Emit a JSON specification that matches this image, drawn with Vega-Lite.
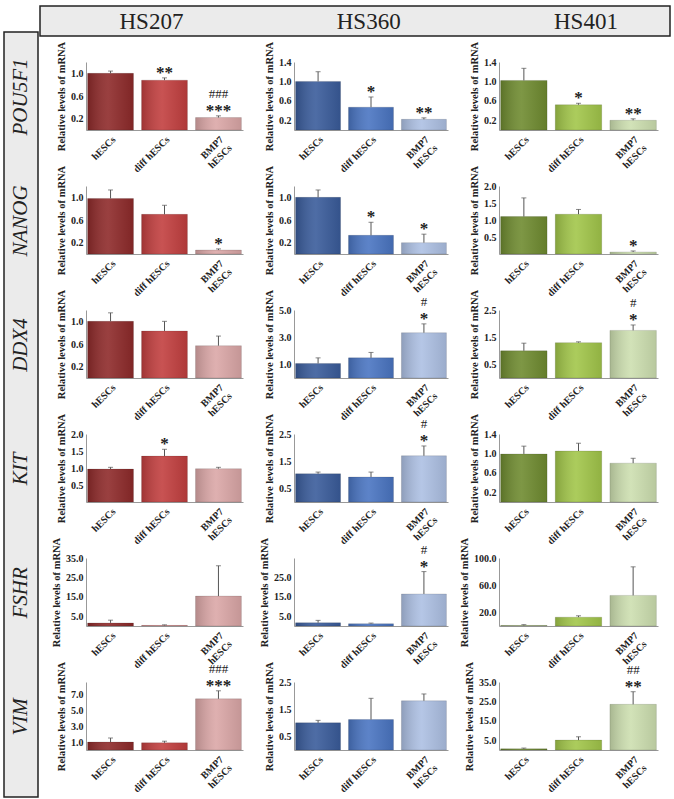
{
"$schema": "https://vega.github.io/schema/vega-lite/v6.json",
"padding": {"left": 3, "top": 5, "right": 0, "bottom": 0},
"background": "white",
"datasets": {
"d": [
{"gene":"POU5F1","line":"HS207","group":"hESCs","value":1.0,"hi":1.04,"star":"","hash":""},
{"gene":"POU5F1","line":"HS207","group":"diff hESCs","value":0.88,"hi":0.92,"star":"**","hash":""},
{"gene":"POU5F1","line":"HS207","group":"BMP7 hESCs","value":0.22,"hi":0.25,"star":"***","hash":"###"},
{"gene":"POU5F1","line":"HS360","group":"hESCs","value":1.0,"hi":1.2,"star":"","hash":""},
{"gene":"POU5F1","line":"HS360","group":"diff hESCs","value":0.47,"hi":0.68,"star":"*","hash":""},
{"gene":"POU5F1","line":"HS360","group":"BMP7 hESCs","value":0.22,"hi":0.25,"star":"**","hash":""},
{"gene":"POU5F1","line":"HS401","group":"hESCs","value":1.02,"hi":1.27,"star":"","hash":""},
{"gene":"POU5F1","line":"HS401","group":"diff hESCs","value":0.52,"hi":0.55,"star":"*","hash":""},
{"gene":"POU5F1","line":"HS401","group":"BMP7 hESCs","value":0.2,"hi":0.23,"star":"**","hash":""},
{"gene":"NANOG","line":"HS207","group":"hESCs","value":0.98,"hi":1.13,"star":"","hash":""},
{"gene":"NANOG","line":"HS207","group":"diff hESCs","value":0.7,"hi":0.86,"star":"","hash":""},
{"gene":"NANOG","line":"HS207","group":"BMP7 hESCs","value":0.07,"hi":0.09,"star":"*","hash":""},
{"gene":"NANOG","line":"HS360","group":"hESCs","value":1.0,"hi":1.13,"star":"","hash":""},
{"gene":"NANOG","line":"HS360","group":"diff hESCs","value":0.33,"hi":0.56,"star":"*","hash":""},
{"gene":"NANOG","line":"HS360","group":"BMP7 hESCs","value":0.2,"hi":0.35,"star":"*","hash":""},
{"gene":"NANOG","line":"HS401","group":"hESCs","value":1.1,"hi":1.65,"star":"","hash":""},
{"gene":"NANOG","line":"HS401","group":"diff hESCs","value":1.17,"hi":1.31,"star":"","hash":""},
{"gene":"NANOG","line":"HS401","group":"BMP7 hESCs","value":0.06,"hi":0.09,"star":"*","hash":""},
{"gene":"DDX4","line":"HS207","group":"hESCs","value":1.0,"hi":1.15,"star":"","hash":""},
{"gene":"DDX4","line":"HS207","group":"diff hESCs","value":0.83,"hi":1.0,"star":"","hash":""},
{"gene":"DDX4","line":"HS207","group":"BMP7 hESCs","value":0.57,"hi":0.74,"star":"","hash":""},
{"gene":"DDX4","line":"HS360","group":"hESCs","value":1.07,"hi":1.48,"star":"","hash":""},
{"gene":"DDX4","line":"HS360","group":"diff hESCs","value":1.48,"hi":1.88,"star":"","hash":""},
{"gene":"DDX4","line":"HS360","group":"BMP7 hESCs","value":3.33,"hi":3.98,"star":"*","hash":"#"},
{"gene":"DDX4","line":"HS401","group":"hESCs","value":1.0,"hi":1.28,"star":"","hash":""},
{"gene":"DDX4","line":"HS401","group":"diff hESCs","value":1.3,"hi":1.33,"star":"","hash":""},
{"gene":"DDX4","line":"HS401","group":"BMP7 hESCs","value":1.75,"hi":1.95,"star":"*","hash":"#"},
{"gene":"KIT","line":"HS207","group":"hESCs","value":0.97,"hi":1.02,"star":"","hash":""},
{"gene":"KIT","line":"HS207","group":"diff hESCs","value":1.35,"hi":1.55,"star":"*","hash":""},
{"gene":"KIT","line":"HS207","group":"BMP7 hESCs","value":0.98,"hi":1.02,"star":"","hash":""},
{"gene":"KIT","line":"HS360","group":"hESCs","value":1.04,"hi":1.1,"star":"","hash":""},
{"gene":"KIT","line":"HS360","group":"diff hESCs","value":0.92,"hi":1.1,"star":"","hash":""},
{"gene":"KIT","line":"HS360","group":"BMP7 hESCs","value":1.7,"hi":2.06,"star":"*","hash":"#"},
{"gene":"KIT","line":"HS401","group":"hESCs","value":0.99,"hi":1.15,"star":"","hash":""},
{"gene":"KIT","line":"HS401","group":"diff hESCs","value":1.05,"hi":1.21,"star":"","hash":""},
{"gene":"KIT","line":"HS401","group":"BMP7 hESCs","value":0.8,"hi":0.9,"star":"","hash":""},
{"gene":"FSHR","line":"HS207","group":"hESCs","value":1.6,"hi":3.0,"star":"","hash":""},
{"gene":"FSHR","line":"HS207","group":"diff hESCs","value":0.3,"hi":0.6,"star":"","hash":""},
{"gene":"FSHR","line":"HS207","group":"BMP7 hESCs","value":15.4,"hi":31.0,"star":"","hash":""},
{"gene":"FSHR","line":"HS360","group":"hESCs","value":1.7,"hi":2.9,"star":"","hash":""},
{"gene":"FSHR","line":"HS360","group":"diff hESCs","value":1.2,"hi":1.5,"star":"","hash":""},
{"gene":"FSHR","line":"HS360","group":"BMP7 hESCs","value":16.5,"hi":28.0,"star":"*","hash":"#"},
{"gene":"FSHR","line":"HS401","group":"hESCs","value":0.8,"hi":2.0,"star":"","hash":""},
{"gene":"FSHR","line":"HS401","group":"diff hESCs","value":13.0,"hi":15.0,"star":"","hash":""},
{"gene":"FSHR","line":"HS401","group":"BMP7 hESCs","value":45.0,"hi":87.0,"star":"","hash":""},
{"gene":"VIM","line":"HS207","group":"hESCs","value":1.0,"hi":1.5,"star":"","hash":""},
{"gene":"VIM","line":"HS207","group":"diff hESCs","value":0.9,"hi":1.1,"star":"","hash":""},
{"gene":"VIM","line":"HS207","group":"BMP7 hESCs","value":6.4,"hi":7.4,"star":"***","hash":"###"},
{"gene":"VIM","line":"HS360","group":"hESCs","value":1.0,"hi":1.09,"star":"","hash":""},
{"gene":"VIM","line":"HS360","group":"diff hESCs","value":1.12,"hi":1.9,"star":"","hash":""},
{"gene":"VIM","line":"HS360","group":"BMP7 hESCs","value":1.81,"hi":2.06,"star":"","hash":""},
{"gene":"VIM","line":"HS401","group":"hESCs","value":0.6,"hi":1.0,"star":"","hash":""},
{"gene":"VIM","line":"HS401","group":"diff hESCs","value":5.1,"hi":6.8,"star":"","hash":""},
{"gene":"VIM","line":"HS401","group":"BMP7 hESCs","value":23.5,"hi":30.0,"star":"**","hash":"##"}
]
},
"data": {"name": "d"},
"spacing": 0,
"hconcat": [
{"spacing": 0, "vconcat": [
  {"width": 34, "height": 25, "data": {"values": [{}]}, "mark": {"type": "text"}, "encoding": {"text": {"value": ""}}},
  {"width": 34, "height": 765, "view": {"fill": "#ebebeb", "stroke": "#222", "strokeWidth": 1.5},
   "data": {"values": [{"gene":"POU5F1"},{"gene":"NANOG"},{"gene":"DDX4"},{"gene":"KIT"},{"gene":"FSHR"},{"gene":"VIM"}]},
   "mark": {"type": "text", "angle": 270, "font": "Liberation Serif", "fontStyle": "italic", "fontSize": 21, "color": "#222", "align": "center", "baseline": "middle"},
   "encoding": {"y": {"field": "gene", "type": "nominal", "sort": null, "scale": {"type": "point", "padding": 0.585, "align": 0.448}, "axis": null}, "text": {"field": "gene"}}}
]},
{"spacing": 3, "vconcat": [
  {"width": 630, "height": 30, "view": {"fill": "#ebebeb", "stroke": "#222", "strokeWidth": 1.5},
   "data": {"values": [{"line":"HS207"},{"line":"HS360"},{"line":"HS401"}]},
   "mark": {"type": "text", "font": "Liberation Serif", "fontSize": 23, "color": "#222", "align": "center", "baseline": "middle", "dy": 1},
   "encoding": {"x": {"field": "line", "type": "ordinal", "scale": {"type": "point", "padding": 0.45, "align": 0.57}, "axis": null}, "text": {"field": "line"}}},
  {"spacing": 10, "hconcat": [
    {"width": 1, "height": 1, "data": {"values": [{}]}, "mark": {"type": "text"}, "encoding": {"text": {"value": ""}}},
    {"columns": 3, "bounds": "flush", "spacing": {"row": 56, "column": 51},
     "resolve": {"scale": {"color": "independent", "x": "independent", "y": "independent"}},
     "concat": [
{"width":157,"height":68,"transform":[{"filter":"datum.gene=='POU5F1' && datum.line=='HS207'"}],"encoding":{"x":{"field":"group","type":"nominal","sort":["hESCs","diff hESCs","BMP7 hESCs"],"scale":{"paddingInner":0.15,"paddingOuter":0.03},"title":null,"axis":{"labelExpr":"datum.value=='BMP7 hESCs' ? ['BMP7','hESCs'] : datum.value"}}},"layer":[
{"mark":"bar","encoding":{"y":{"field":"value","type":"quantitative","scale":{"domain":[0,1.2],"nice":false},"axis":{"values":[0.2,0.6,1.0],"tickCount":10,"labelOverlap":false},"title":"Relative levels of mRNA"},"color":{"field":"group","type":"nominal","scale":{"domain":["hESCs","diff hESCs","BMP7 hESCs"],"range":["#8e2a2a","#c23f3f","#dba7a7"]},"legend":null}}},
{"mark":{"type":"bar","fill":{"gradient":"linear","x1":0,"x2":1,"y1":0,"y2":0,"stops":[{"offset":0,"color":"rgba(0,0,0,0.18)"},{"offset":0.45,"color":"rgba(255,255,255,0.10)"},{"offset":1,"color":"rgba(0,0,0,0.10)"}]},"stroke":"rgba(0,0,0,0.2)","strokeWidth":0.6},"encoding":{"y":{"field":"value","type":"quantitative"}}},
{"mark":{"type":"rule","color":"#555"},"encoding":{"y":{"field":"value","type":"quantitative"},"y2":{"field":"hi"}}},
{"mark":{"type":"tick","color":"#555","size":5,"thickness":1},"encoding":{"y":{"field":"hi","type":"quantitative"}}},
{"mark":{"type":"text","baseline":"alphabetic","dy":0,"font":"Liberation Serif","fontSize":17,"fontWeight":"bold","color":"#222"},"encoding":{"y":{"field":"hi","type":"quantitative"},"text":{"field":"star"}}},
{"mark":{"type":"text","baseline":"alphabetic","dy":-18,"font":"Liberation Serif","fontSize":13,"color":"#222"},"encoding":{"y":{"field":"hi","type":"quantitative"},"text":{"field":"hash"}}}]},
{"width":154,"height":68,"transform":[{"filter":"datum.gene=='POU5F1' && datum.line=='HS360'"}],"encoding":{"x":{"field":"group","type":"nominal","sort":["hESCs","diff hESCs","BMP7 hESCs"],"scale":{"paddingInner":0.15,"paddingOuter":0.03},"title":null,"axis":{"labelExpr":"datum.value=='BMP7 hESCs' ? ['BMP7','hESCs'] : datum.value"}}},"layer":[
{"mark":"bar","encoding":{"y":{"field":"value","type":"quantitative","scale":{"domain":[0,1.4],"nice":false},"axis":{"values":[0.2,0.6,1.0,1.4],"tickCount":10,"labelOverlap":false},"title":"Relative levels of mRNA"},"color":{"field":"group","type":"nominal","scale":{"domain":["hESCs","diff hESCs","BMP7 hESCs"],"range":["#3a5c9b","#4a75c2","#adc0e3"]},"legend":null}}},
{"mark":{"type":"bar","fill":{"gradient":"linear","x1":0,"x2":1,"y1":0,"y2":0,"stops":[{"offset":0,"color":"rgba(0,0,0,0.18)"},{"offset":0.45,"color":"rgba(255,255,255,0.10)"},{"offset":1,"color":"rgba(0,0,0,0.10)"}]},"stroke":"rgba(0,0,0,0.2)","strokeWidth":0.6},"encoding":{"y":{"field":"value","type":"quantitative"}}},
{"mark":{"type":"rule","color":"#555"},"encoding":{"y":{"field":"value","type":"quantitative"},"y2":{"field":"hi"}}},
{"mark":{"type":"tick","color":"#555","size":5,"thickness":1},"encoding":{"y":{"field":"hi","type":"quantitative"}}},
{"mark":{"type":"text","baseline":"alphabetic","dy":0,"font":"Liberation Serif","fontSize":17,"fontWeight":"bold","color":"#222"},"encoding":{"y":{"field":"hi","type":"quantitative"},"text":{"field":"star"}}},
{"mark":{"type":"text","baseline":"alphabetic","dy":-18,"font":"Liberation Serif","fontSize":13,"color":"#222"},"encoding":{"y":{"field":"hi","type":"quantitative"},"text":{"field":"hash"}}}]},
{"width":159,"height":68,"transform":[{"filter":"datum.gene=='POU5F1' && datum.line=='HS401'"}],"encoding":{"x":{"field":"group","type":"nominal","sort":["hESCs","diff hESCs","BMP7 hESCs"],"scale":{"paddingInner":0.15,"paddingOuter":0.03},"title":null,"axis":{"labelExpr":"datum.value=='BMP7 hESCs' ? ['BMP7','hESCs'] : datum.value"}}},"layer":[
{"mark":"bar","encoding":{"y":{"field":"value","type":"quantitative","scale":{"domain":[0,1.4],"nice":false},"axis":{"values":[0.2,0.6,1.0,1.4],"tickCount":10,"labelOverlap":false},"title":"Relative levels of mRNA"},"color":{"field":"group","type":"nominal","scale":{"domain":["hESCs","diff hESCs","BMP7 hESCs"],"range":["#6f8b30","#a2c64a","#cddfb0"]},"legend":null}}},
{"mark":{"type":"bar","fill":{"gradient":"linear","x1":0,"x2":1,"y1":0,"y2":0,"stops":[{"offset":0,"color":"rgba(0,0,0,0.18)"},{"offset":0.45,"color":"rgba(255,255,255,0.10)"},{"offset":1,"color":"rgba(0,0,0,0.10)"}]},"stroke":"rgba(0,0,0,0.2)","strokeWidth":0.6},"encoding":{"y":{"field":"value","type":"quantitative"}}},
{"mark":{"type":"rule","color":"#555"},"encoding":{"y":{"field":"value","type":"quantitative"},"y2":{"field":"hi"}}},
{"mark":{"type":"tick","color":"#555","size":5,"thickness":1},"encoding":{"y":{"field":"hi","type":"quantitative"}}},
{"mark":{"type":"text","baseline":"alphabetic","dy":0,"font":"Liberation Serif","fontSize":17,"fontWeight":"bold","color":"#222"},"encoding":{"y":{"field":"hi","type":"quantitative"},"text":{"field":"star"}}},
{"mark":{"type":"text","baseline":"alphabetic","dy":-18,"font":"Liberation Serif","fontSize":13,"color":"#222"},"encoding":{"y":{"field":"hi","type":"quantitative"},"text":{"field":"hash"}}}]},

{"width":157,"height":68,"transform":[{"filter":"datum.gene=='NANOG' && datum.line=='HS207'"}],"encoding":{"x":{"field":"group","type":"nominal","sort":["hESCs","diff hESCs","BMP7 hESCs"],"scale":{"paddingInner":0.15,"paddingOuter":0.03},"title":null,"axis":{"labelExpr":"datum.value=='BMP7 hESCs' ? ['BMP7','hESCs'] : datum.value"}}},"layer":[
{"mark":"bar","encoding":{"y":{"field":"value","type":"quantitative","scale":{"domain":[0,1.2],"nice":false},"axis":{"values":[0.2,0.6,1.0],"tickCount":10,"labelOverlap":false},"title":"Relative levels of mRNA"},"color":{"field":"group","type":"nominal","scale":{"domain":["hESCs","diff hESCs","BMP7 hESCs"],"range":["#8e2a2a","#c23f3f","#dba7a7"]},"legend":null}}},
{"mark":{"type":"bar","fill":{"gradient":"linear","x1":0,"x2":1,"y1":0,"y2":0,"stops":[{"offset":0,"color":"rgba(0,0,0,0.18)"},{"offset":0.45,"color":"rgba(255,255,255,0.10)"},{"offset":1,"color":"rgba(0,0,0,0.10)"}]},"stroke":"rgba(0,0,0,0.2)","strokeWidth":0.6},"encoding":{"y":{"field":"value","type":"quantitative"}}},
{"mark":{"type":"rule","color":"#555"},"encoding":{"y":{"field":"value","type":"quantitative"},"y2":{"field":"hi"}}},
{"mark":{"type":"tick","color":"#555","size":5,"thickness":1},"encoding":{"y":{"field":"hi","type":"quantitative"}}},
{"mark":{"type":"text","baseline":"alphabetic","dy":0,"font":"Liberation Serif","fontSize":17,"fontWeight":"bold","color":"#222"},"encoding":{"y":{"field":"hi","type":"quantitative"},"text":{"field":"star"}}},
{"mark":{"type":"text","baseline":"alphabetic","dy":-18,"font":"Liberation Serif","fontSize":13,"color":"#222"},"encoding":{"y":{"field":"hi","type":"quantitative"},"text":{"field":"hash"}}}]},
{"width":154,"height":68,"transform":[{"filter":"datum.gene=='NANOG' && datum.line=='HS360'"}],"encoding":{"x":{"field":"group","type":"nominal","sort":["hESCs","diff hESCs","BMP7 hESCs"],"scale":{"paddingInner":0.15,"paddingOuter":0.03},"title":null,"axis":{"labelExpr":"datum.value=='BMP7 hESCs' ? ['BMP7','hESCs'] : datum.value"}}},"layer":[
{"mark":"bar","encoding":{"y":{"field":"value","type":"quantitative","scale":{"domain":[0,1.2],"nice":false},"axis":{"values":[0.2,0.6,1.0],"tickCount":10,"labelOverlap":false},"title":"Relative levels of mRNA"},"color":{"field":"group","type":"nominal","scale":{"domain":["hESCs","diff hESCs","BMP7 hESCs"],"range":["#3a5c9b","#4a75c2","#adc0e3"]},"legend":null}}},
{"mark":{"type":"bar","fill":{"gradient":"linear","x1":0,"x2":1,"y1":0,"y2":0,"stops":[{"offset":0,"color":"rgba(0,0,0,0.18)"},{"offset":0.45,"color":"rgba(255,255,255,0.10)"},{"offset":1,"color":"rgba(0,0,0,0.10)"}]},"stroke":"rgba(0,0,0,0.2)","strokeWidth":0.6},"encoding":{"y":{"field":"value","type":"quantitative"}}},
{"mark":{"type":"rule","color":"#555"},"encoding":{"y":{"field":"value","type":"quantitative"},"y2":{"field":"hi"}}},
{"mark":{"type":"tick","color":"#555","size":5,"thickness":1},"encoding":{"y":{"field":"hi","type":"quantitative"}}},
{"mark":{"type":"text","baseline":"alphabetic","dy":0,"font":"Liberation Serif","fontSize":17,"fontWeight":"bold","color":"#222"},"encoding":{"y":{"field":"hi","type":"quantitative"},"text":{"field":"star"}}},
{"mark":{"type":"text","baseline":"alphabetic","dy":-18,"font":"Liberation Serif","fontSize":13,"color":"#222"},"encoding":{"y":{"field":"hi","type":"quantitative"},"text":{"field":"hash"}}}]},
{"width":159,"height":68,"transform":[{"filter":"datum.gene=='NANOG' && datum.line=='HS401'"}],"encoding":{"x":{"field":"group","type":"nominal","sort":["hESCs","diff hESCs","BMP7 hESCs"],"scale":{"paddingInner":0.15,"paddingOuter":0.03},"title":null,"axis":{"labelExpr":"datum.value=='BMP7 hESCs' ? ['BMP7','hESCs'] : datum.value"}}},"layer":[
{"mark":"bar","encoding":{"y":{"field":"value","type":"quantitative","scale":{"domain":[0,2],"nice":false},"axis":{"values":[0.5,1.0,1.5,2.0],"tickCount":10,"labelOverlap":false},"title":"Relative levels of mRNA"},"color":{"field":"group","type":"nominal","scale":{"domain":["hESCs","diff hESCs","BMP7 hESCs"],"range":["#6f8b30","#a2c64a","#cddfb0"]},"legend":null}}},
{"mark":{"type":"bar","fill":{"gradient":"linear","x1":0,"x2":1,"y1":0,"y2":0,"stops":[{"offset":0,"color":"rgba(0,0,0,0.18)"},{"offset":0.45,"color":"rgba(255,255,255,0.10)"},{"offset":1,"color":"rgba(0,0,0,0.10)"}]},"stroke":"rgba(0,0,0,0.2)","strokeWidth":0.6},"encoding":{"y":{"field":"value","type":"quantitative"}}},
{"mark":{"type":"rule","color":"#555"},"encoding":{"y":{"field":"value","type":"quantitative"},"y2":{"field":"hi"}}},
{"mark":{"type":"tick","color":"#555","size":5,"thickness":1},"encoding":{"y":{"field":"hi","type":"quantitative"}}},
{"mark":{"type":"text","baseline":"alphabetic","dy":0,"font":"Liberation Serif","fontSize":17,"fontWeight":"bold","color":"#222"},"encoding":{"y":{"field":"hi","type":"quantitative"},"text":{"field":"star"}}},
{"mark":{"type":"text","baseline":"alphabetic","dy":-18,"font":"Liberation Serif","fontSize":13,"color":"#222"},"encoding":{"y":{"field":"hi","type":"quantitative"},"text":{"field":"hash"}}}]},

{"width":157,"height":68,"transform":[{"filter":"datum.gene=='DDX4' && datum.line=='HS207'"}],"encoding":{"x":{"field":"group","type":"nominal","sort":["hESCs","diff hESCs","BMP7 hESCs"],"scale":{"paddingInner":0.15,"paddingOuter":0.03},"title":null,"axis":{"labelExpr":"datum.value=='BMP7 hESCs' ? ['BMP7','hESCs'] : datum.value"}}},"layer":[
{"mark":"bar","encoding":{"y":{"field":"value","type":"quantitative","scale":{"domain":[0,1.2],"nice":false},"axis":{"values":[0.2,0.6,1.0],"tickCount":10,"labelOverlap":false},"title":"Relative levels of mRNA"},"color":{"field":"group","type":"nominal","scale":{"domain":["hESCs","diff hESCs","BMP7 hESCs"],"range":["#8e2a2a","#c23f3f","#dba7a7"]},"legend":null}}},
{"mark":{"type":"bar","fill":{"gradient":"linear","x1":0,"x2":1,"y1":0,"y2":0,"stops":[{"offset":0,"color":"rgba(0,0,0,0.18)"},{"offset":0.45,"color":"rgba(255,255,255,0.10)"},{"offset":1,"color":"rgba(0,0,0,0.10)"}]},"stroke":"rgba(0,0,0,0.2)","strokeWidth":0.6},"encoding":{"y":{"field":"value","type":"quantitative"}}},
{"mark":{"type":"rule","color":"#555"},"encoding":{"y":{"field":"value","type":"quantitative"},"y2":{"field":"hi"}}},
{"mark":{"type":"tick","color":"#555","size":5,"thickness":1},"encoding":{"y":{"field":"hi","type":"quantitative"}}},
{"mark":{"type":"text","baseline":"alphabetic","dy":0,"font":"Liberation Serif","fontSize":17,"fontWeight":"bold","color":"#222"},"encoding":{"y":{"field":"hi","type":"quantitative"},"text":{"field":"star"}}},
{"mark":{"type":"text","baseline":"alphabetic","dy":-18,"font":"Liberation Serif","fontSize":13,"color":"#222"},"encoding":{"y":{"field":"hi","type":"quantitative"},"text":{"field":"hash"}}}]},
{"width":154,"height":68,"transform":[{"filter":"datum.gene=='DDX4' && datum.line=='HS360'"}],"encoding":{"x":{"field":"group","type":"nominal","sort":["hESCs","diff hESCs","BMP7 hESCs"],"scale":{"paddingInner":0.15,"paddingOuter":0.03},"title":null,"axis":{"labelExpr":"datum.value=='BMP7 hESCs' ? ['BMP7','hESCs'] : datum.value"}}},"layer":[
{"mark":"bar","encoding":{"y":{"field":"value","type":"quantitative","scale":{"domain":[0,5],"nice":false},"axis":{"values":[1,3,5],"tickCount":10,"labelOverlap":false},"title":"Relative levels of mRNA"},"color":{"field":"group","type":"nominal","scale":{"domain":["hESCs","diff hESCs","BMP7 hESCs"],"range":["#3a5c9b","#4a75c2","#adc0e3"]},"legend":null}}},
{"mark":{"type":"bar","fill":{"gradient":"linear","x1":0,"x2":1,"y1":0,"y2":0,"stops":[{"offset":0,"color":"rgba(0,0,0,0.18)"},{"offset":0.45,"color":"rgba(255,255,255,0.10)"},{"offset":1,"color":"rgba(0,0,0,0.10)"}]},"stroke":"rgba(0,0,0,0.2)","strokeWidth":0.6},"encoding":{"y":{"field":"value","type":"quantitative"}}},
{"mark":{"type":"rule","color":"#555"},"encoding":{"y":{"field":"value","type":"quantitative"},"y2":{"field":"hi"}}},
{"mark":{"type":"tick","color":"#555","size":5,"thickness":1},"encoding":{"y":{"field":"hi","type":"quantitative"}}},
{"mark":{"type":"text","baseline":"alphabetic","dy":0,"font":"Liberation Serif","fontSize":17,"fontWeight":"bold","color":"#222"},"encoding":{"y":{"field":"hi","type":"quantitative"},"text":{"field":"star"}}},
{"mark":{"type":"text","baseline":"alphabetic","dy":-18,"font":"Liberation Serif","fontSize":13,"color":"#222"},"encoding":{"y":{"field":"hi","type":"quantitative"},"text":{"field":"hash"}}}]},
{"width":159,"height":68,"transform":[{"filter":"datum.gene=='DDX4' && datum.line=='HS401'"}],"encoding":{"x":{"field":"group","type":"nominal","sort":["hESCs","diff hESCs","BMP7 hESCs"],"scale":{"paddingInner":0.15,"paddingOuter":0.03},"title":null,"axis":{"labelExpr":"datum.value=='BMP7 hESCs' ? ['BMP7','hESCs'] : datum.value"}}},"layer":[
{"mark":"bar","encoding":{"y":{"field":"value","type":"quantitative","scale":{"domain":[0,2.5],"nice":false},"axis":{"values":[0.5,1.5,2.5],"tickCount":10,"labelOverlap":false},"title":"Relative levels of mRNA"},"color":{"field":"group","type":"nominal","scale":{"domain":["hESCs","diff hESCs","BMP7 hESCs"],"range":["#6f8b30","#a2c64a","#cddfb0"]},"legend":null}}},
{"mark":{"type":"bar","fill":{"gradient":"linear","x1":0,"x2":1,"y1":0,"y2":0,"stops":[{"offset":0,"color":"rgba(0,0,0,0.18)"},{"offset":0.45,"color":"rgba(255,255,255,0.10)"},{"offset":1,"color":"rgba(0,0,0,0.10)"}]},"stroke":"rgba(0,0,0,0.2)","strokeWidth":0.6},"encoding":{"y":{"field":"value","type":"quantitative"}}},
{"mark":{"type":"rule","color":"#555"},"encoding":{"y":{"field":"value","type":"quantitative"},"y2":{"field":"hi"}}},
{"mark":{"type":"tick","color":"#555","size":5,"thickness":1},"encoding":{"y":{"field":"hi","type":"quantitative"}}},
{"mark":{"type":"text","baseline":"alphabetic","dy":0,"font":"Liberation Serif","fontSize":17,"fontWeight":"bold","color":"#222"},"encoding":{"y":{"field":"hi","type":"quantitative"},"text":{"field":"star"}}},
{"mark":{"type":"text","baseline":"alphabetic","dy":-18,"font":"Liberation Serif","fontSize":13,"color":"#222"},"encoding":{"y":{"field":"hi","type":"quantitative"},"text":{"field":"hash"}}}]},

{"width":157,"height":68,"transform":[{"filter":"datum.gene=='KIT' && datum.line=='HS207'"}],"encoding":{"x":{"field":"group","type":"nominal","sort":["hESCs","diff hESCs","BMP7 hESCs"],"scale":{"paddingInner":0.15,"paddingOuter":0.03},"title":null,"axis":{"labelExpr":"datum.value=='BMP7 hESCs' ? ['BMP7','hESCs'] : datum.value"}}},"layer":[
{"mark":"bar","encoding":{"y":{"field":"value","type":"quantitative","scale":{"domain":[0,2],"nice":false},"axis":{"values":[0.5,1.0,1.5,2.0],"tickCount":10,"labelOverlap":false},"title":"Relative levels of mRNA"},"color":{"field":"group","type":"nominal","scale":{"domain":["hESCs","diff hESCs","BMP7 hESCs"],"range":["#8e2a2a","#c23f3f","#dba7a7"]},"legend":null}}},
{"mark":{"type":"bar","fill":{"gradient":"linear","x1":0,"x2":1,"y1":0,"y2":0,"stops":[{"offset":0,"color":"rgba(0,0,0,0.18)"},{"offset":0.45,"color":"rgba(255,255,255,0.10)"},{"offset":1,"color":"rgba(0,0,0,0.10)"}]},"stroke":"rgba(0,0,0,0.2)","strokeWidth":0.6},"encoding":{"y":{"field":"value","type":"quantitative"}}},
{"mark":{"type":"rule","color":"#555"},"encoding":{"y":{"field":"value","type":"quantitative"},"y2":{"field":"hi"}}},
{"mark":{"type":"tick","color":"#555","size":5,"thickness":1},"encoding":{"y":{"field":"hi","type":"quantitative"}}},
{"mark":{"type":"text","baseline":"alphabetic","dy":0,"font":"Liberation Serif","fontSize":17,"fontWeight":"bold","color":"#222"},"encoding":{"y":{"field":"hi","type":"quantitative"},"text":{"field":"star"}}},
{"mark":{"type":"text","baseline":"alphabetic","dy":-18,"font":"Liberation Serif","fontSize":13,"color":"#222"},"encoding":{"y":{"field":"hi","type":"quantitative"},"text":{"field":"hash"}}}]},
{"width":154,"height":68,"transform":[{"filter":"datum.gene=='KIT' && datum.line=='HS360'"}],"encoding":{"x":{"field":"group","type":"nominal","sort":["hESCs","diff hESCs","BMP7 hESCs"],"scale":{"paddingInner":0.15,"paddingOuter":0.03},"title":null,"axis":{"labelExpr":"datum.value=='BMP7 hESCs' ? ['BMP7','hESCs'] : datum.value"}}},"layer":[
{"mark":"bar","encoding":{"y":{"field":"value","type":"quantitative","scale":{"domain":[0,2.5],"nice":false},"axis":{"values":[0.5,1.5,2.5],"tickCount":10,"labelOverlap":false},"title":"Relative levels of mRNA"},"color":{"field":"group","type":"nominal","scale":{"domain":["hESCs","diff hESCs","BMP7 hESCs"],"range":["#3a5c9b","#4a75c2","#adc0e3"]},"legend":null}}},
{"mark":{"type":"bar","fill":{"gradient":"linear","x1":0,"x2":1,"y1":0,"y2":0,"stops":[{"offset":0,"color":"rgba(0,0,0,0.18)"},{"offset":0.45,"color":"rgba(255,255,255,0.10)"},{"offset":1,"color":"rgba(0,0,0,0.10)"}]},"stroke":"rgba(0,0,0,0.2)","strokeWidth":0.6},"encoding":{"y":{"field":"value","type":"quantitative"}}},
{"mark":{"type":"rule","color":"#555"},"encoding":{"y":{"field":"value","type":"quantitative"},"y2":{"field":"hi"}}},
{"mark":{"type":"tick","color":"#555","size":5,"thickness":1},"encoding":{"y":{"field":"hi","type":"quantitative"}}},
{"mark":{"type":"text","baseline":"alphabetic","dy":0,"font":"Liberation Serif","fontSize":17,"fontWeight":"bold","color":"#222"},"encoding":{"y":{"field":"hi","type":"quantitative"},"text":{"field":"star"}}},
{"mark":{"type":"text","baseline":"alphabetic","dy":-18,"font":"Liberation Serif","fontSize":13,"color":"#222"},"encoding":{"y":{"field":"hi","type":"quantitative"},"text":{"field":"hash"}}}]},
{"width":159,"height":68,"transform":[{"filter":"datum.gene=='KIT' && datum.line=='HS401'"}],"encoding":{"x":{"field":"group","type":"nominal","sort":["hESCs","diff hESCs","BMP7 hESCs"],"scale":{"paddingInner":0.15,"paddingOuter":0.03},"title":null,"axis":{"labelExpr":"datum.value=='BMP7 hESCs' ? ['BMP7','hESCs'] : datum.value"}}},"layer":[
{"mark":"bar","encoding":{"y":{"field":"value","type":"quantitative","scale":{"domain":[0,1.4],"nice":false},"axis":{"values":[0.2,0.6,1.0,1.4],"tickCount":10,"labelOverlap":false},"title":"Relative levels of mRNA"},"color":{"field":"group","type":"nominal","scale":{"domain":["hESCs","diff hESCs","BMP7 hESCs"],"range":["#6f8b30","#a2c64a","#cddfb0"]},"legend":null}}},
{"mark":{"type":"bar","fill":{"gradient":"linear","x1":0,"x2":1,"y1":0,"y2":0,"stops":[{"offset":0,"color":"rgba(0,0,0,0.18)"},{"offset":0.45,"color":"rgba(255,255,255,0.10)"},{"offset":1,"color":"rgba(0,0,0,0.10)"}]},"stroke":"rgba(0,0,0,0.2)","strokeWidth":0.6},"encoding":{"y":{"field":"value","type":"quantitative"}}},
{"mark":{"type":"rule","color":"#555"},"encoding":{"y":{"field":"value","type":"quantitative"},"y2":{"field":"hi"}}},
{"mark":{"type":"tick","color":"#555","size":5,"thickness":1},"encoding":{"y":{"field":"hi","type":"quantitative"}}},
{"mark":{"type":"text","baseline":"alphabetic","dy":0,"font":"Liberation Serif","fontSize":17,"fontWeight":"bold","color":"#222"},"encoding":{"y":{"field":"hi","type":"quantitative"},"text":{"field":"star"}}},
{"mark":{"type":"text","baseline":"alphabetic","dy":-18,"font":"Liberation Serif","fontSize":13,"color":"#222"},"encoding":{"y":{"field":"hi","type":"quantitative"},"text":{"field":"hash"}}}]},

{"width":157,"height":68,"transform":[{"filter":"datum.gene=='FSHR' && datum.line=='HS207'"}],"encoding":{"x":{"field":"group","type":"nominal","sort":["hESCs","diff hESCs","BMP7 hESCs"],"scale":{"paddingInner":0.15,"paddingOuter":0.03},"title":null,"axis":{"labelExpr":"datum.value=='BMP7 hESCs' ? ['BMP7','hESCs'] : datum.value"}}},"layer":[
{"mark":"bar","encoding":{"y":{"field":"value","type":"quantitative","scale":{"domain":[0,35],"nice":false},"axis":{"values":[5,15,25,35],"tickCount":10,"labelOverlap":false},"title":"Relative levels of mRNA"},"color":{"field":"group","type":"nominal","scale":{"domain":["hESCs","diff hESCs","BMP7 hESCs"],"range":["#8e2a2a","#c23f3f","#dba7a7"]},"legend":null}}},
{"mark":{"type":"bar","fill":{"gradient":"linear","x1":0,"x2":1,"y1":0,"y2":0,"stops":[{"offset":0,"color":"rgba(0,0,0,0.18)"},{"offset":0.45,"color":"rgba(255,255,255,0.10)"},{"offset":1,"color":"rgba(0,0,0,0.10)"}]},"stroke":"rgba(0,0,0,0.2)","strokeWidth":0.6},"encoding":{"y":{"field":"value","type":"quantitative"}}},
{"mark":{"type":"rule","color":"#555"},"encoding":{"y":{"field":"value","type":"quantitative"},"y2":{"field":"hi"}}},
{"mark":{"type":"tick","color":"#555","size":5,"thickness":1},"encoding":{"y":{"field":"hi","type":"quantitative"}}},
{"mark":{"type":"text","baseline":"alphabetic","dy":0,"font":"Liberation Serif","fontSize":17,"fontWeight":"bold","color":"#222"},"encoding":{"y":{"field":"hi","type":"quantitative"},"text":{"field":"star"}}},
{"mark":{"type":"text","baseline":"alphabetic","dy":-18,"font":"Liberation Serif","fontSize":13,"color":"#222"},"encoding":{"y":{"field":"hi","type":"quantitative"},"text":{"field":"hash"}}}]},
{"width":154,"height":68,"transform":[{"filter":"datum.gene=='FSHR' && datum.line=='HS360'"}],"encoding":{"x":{"field":"group","type":"nominal","sort":["hESCs","diff hESCs","BMP7 hESCs"],"scale":{"paddingInner":0.15,"paddingOuter":0.03},"title":null,"axis":{"labelExpr":"datum.value=='BMP7 hESCs' ? ['BMP7','hESCs'] : datum.value"}}},"layer":[
{"mark":"bar","encoding":{"y":{"field":"value","type":"quantitative","scale":{"domain":[0,35],"nice":false},"axis":{"values":[5,15,25],"tickCount":10,"labelOverlap":false},"title":"Relative levels of mRNA"},"color":{"field":"group","type":"nominal","scale":{"domain":["hESCs","diff hESCs","BMP7 hESCs"],"range":["#3a5c9b","#4a75c2","#adc0e3"]},"legend":null}}},
{"mark":{"type":"bar","fill":{"gradient":"linear","x1":0,"x2":1,"y1":0,"y2":0,"stops":[{"offset":0,"color":"rgba(0,0,0,0.18)"},{"offset":0.45,"color":"rgba(255,255,255,0.10)"},{"offset":1,"color":"rgba(0,0,0,0.10)"}]},"stroke":"rgba(0,0,0,0.2)","strokeWidth":0.6},"encoding":{"y":{"field":"value","type":"quantitative"}}},
{"mark":{"type":"rule","color":"#555"},"encoding":{"y":{"field":"value","type":"quantitative"},"y2":{"field":"hi"}}},
{"mark":{"type":"tick","color":"#555","size":5,"thickness":1},"encoding":{"y":{"field":"hi","type":"quantitative"}}},
{"mark":{"type":"text","baseline":"alphabetic","dy":0,"font":"Liberation Serif","fontSize":17,"fontWeight":"bold","color":"#222"},"encoding":{"y":{"field":"hi","type":"quantitative"},"text":{"field":"star"}}},
{"mark":{"type":"text","baseline":"alphabetic","dy":-18,"font":"Liberation Serif","fontSize":13,"color":"#222"},"encoding":{"y":{"field":"hi","type":"quantitative"},"text":{"field":"hash"}}}]},
{"width":159,"height":68,"transform":[{"filter":"datum.gene=='FSHR' && datum.line=='HS401'"}],"encoding":{"x":{"field":"group","type":"nominal","sort":["hESCs","diff hESCs","BMP7 hESCs"],"scale":{"paddingInner":0.15,"paddingOuter":0.03},"title":null,"axis":{"labelExpr":"datum.value=='BMP7 hESCs' ? ['BMP7','hESCs'] : datum.value"}}},"layer":[
{"mark":"bar","encoding":{"y":{"field":"value","type":"quantitative","scale":{"domain":[0,100],"nice":false},"axis":{"values":[20,60,100],"tickCount":10,"labelOverlap":false},"title":"Relative levels of mRNA"},"color":{"field":"group","type":"nominal","scale":{"domain":["hESCs","diff hESCs","BMP7 hESCs"],"range":["#6f8b30","#a2c64a","#cddfb0"]},"legend":null}}},
{"mark":{"type":"bar","fill":{"gradient":"linear","x1":0,"x2":1,"y1":0,"y2":0,"stops":[{"offset":0,"color":"rgba(0,0,0,0.18)"},{"offset":0.45,"color":"rgba(255,255,255,0.10)"},{"offset":1,"color":"rgba(0,0,0,0.10)"}]},"stroke":"rgba(0,0,0,0.2)","strokeWidth":0.6},"encoding":{"y":{"field":"value","type":"quantitative"}}},
{"mark":{"type":"rule","color":"#555"},"encoding":{"y":{"field":"value","type":"quantitative"},"y2":{"field":"hi"}}},
{"mark":{"type":"tick","color":"#555","size":5,"thickness":1},"encoding":{"y":{"field":"hi","type":"quantitative"}}},
{"mark":{"type":"text","baseline":"alphabetic","dy":0,"font":"Liberation Serif","fontSize":17,"fontWeight":"bold","color":"#222"},"encoding":{"y":{"field":"hi","type":"quantitative"},"text":{"field":"star"}}},
{"mark":{"type":"text","baseline":"alphabetic","dy":-18,"font":"Liberation Serif","fontSize":13,"color":"#222"},"encoding":{"y":{"field":"hi","type":"quantitative"},"text":{"field":"hash"}}}]},

{"width":157,"height":68,"transform":[{"filter":"datum.gene=='VIM' && datum.line=='HS207'"}],"encoding":{"x":{"field":"group","type":"nominal","sort":["hESCs","diff hESCs","BMP7 hESCs"],"scale":{"paddingInner":0.15,"paddingOuter":0.03},"title":null,"axis":{"labelExpr":"datum.value=='BMP7 hESCs' ? ['BMP7','hESCs'] : datum.value"}}},"layer":[
{"mark":"bar","encoding":{"y":{"field":"value","type":"quantitative","scale":{"domain":[0,8.5],"nice":false},"axis":{"values":[1,3,5,7],"tickCount":10,"labelOverlap":false},"title":"Relative levels of mRNA"},"color":{"field":"group","type":"nominal","scale":{"domain":["hESCs","diff hESCs","BMP7 hESCs"],"range":["#8e2a2a","#c23f3f","#dba7a7"]},"legend":null}}},
{"mark":{"type":"bar","fill":{"gradient":"linear","x1":0,"x2":1,"y1":0,"y2":0,"stops":[{"offset":0,"color":"rgba(0,0,0,0.18)"},{"offset":0.45,"color":"rgba(255,255,255,0.10)"},{"offset":1,"color":"rgba(0,0,0,0.10)"}]},"stroke":"rgba(0,0,0,0.2)","strokeWidth":0.6},"encoding":{"y":{"field":"value","type":"quantitative"}}},
{"mark":{"type":"rule","color":"#555"},"encoding":{"y":{"field":"value","type":"quantitative"},"y2":{"field":"hi"}}},
{"mark":{"type":"tick","color":"#555","size":5,"thickness":1},"encoding":{"y":{"field":"hi","type":"quantitative"}}},
{"mark":{"type":"text","baseline":"alphabetic","dy":0,"font":"Liberation Serif","fontSize":17,"fontWeight":"bold","color":"#222"},"encoding":{"y":{"field":"hi","type":"quantitative"},"text":{"field":"star"}}},
{"mark":{"type":"text","baseline":"alphabetic","dy":-18,"font":"Liberation Serif","fontSize":13,"color":"#222"},"encoding":{"y":{"field":"hi","type":"quantitative"},"text":{"field":"hash"}}}]},
{"width":154,"height":68,"transform":[{"filter":"datum.gene=='VIM' && datum.line=='HS360'"}],"encoding":{"x":{"field":"group","type":"nominal","sort":["hESCs","diff hESCs","BMP7 hESCs"],"scale":{"paddingInner":0.15,"paddingOuter":0.03},"title":null,"axis":{"labelExpr":"datum.value=='BMP7 hESCs' ? ['BMP7','hESCs'] : datum.value"}}},"layer":[
{"mark":"bar","encoding":{"y":{"field":"value","type":"quantitative","scale":{"domain":[0,2.5],"nice":false},"axis":{"values":[0.5,1.5,2.5],"tickCount":10,"labelOverlap":false},"title":"Relative levels of mRNA"},"color":{"field":"group","type":"nominal","scale":{"domain":["hESCs","diff hESCs","BMP7 hESCs"],"range":["#3a5c9b","#4a75c2","#adc0e3"]},"legend":null}}},
{"mark":{"type":"bar","fill":{"gradient":"linear","x1":0,"x2":1,"y1":0,"y2":0,"stops":[{"offset":0,"color":"rgba(0,0,0,0.18)"},{"offset":0.45,"color":"rgba(255,255,255,0.10)"},{"offset":1,"color":"rgba(0,0,0,0.10)"}]},"stroke":"rgba(0,0,0,0.2)","strokeWidth":0.6},"encoding":{"y":{"field":"value","type":"quantitative"}}},
{"mark":{"type":"rule","color":"#555"},"encoding":{"y":{"field":"value","type":"quantitative"},"y2":{"field":"hi"}}},
{"mark":{"type":"tick","color":"#555","size":5,"thickness":1},"encoding":{"y":{"field":"hi","type":"quantitative"}}},
{"mark":{"type":"text","baseline":"alphabetic","dy":0,"font":"Liberation Serif","fontSize":17,"fontWeight":"bold","color":"#222"},"encoding":{"y":{"field":"hi","type":"quantitative"},"text":{"field":"star"}}},
{"mark":{"type":"text","baseline":"alphabetic","dy":-18,"font":"Liberation Serif","fontSize":13,"color":"#222"},"encoding":{"y":{"field":"hi","type":"quantitative"},"text":{"field":"hash"}}}]},
{"width":159,"height":68,"transform":[{"filter":"datum.gene=='VIM' && datum.line=='HS401'"}],"encoding":{"x":{"field":"group","type":"nominal","sort":["hESCs","diff hESCs","BMP7 hESCs"],"scale":{"paddingInner":0.15,"paddingOuter":0.03},"title":null,"axis":{"labelExpr":"datum.value=='BMP7 hESCs' ? ['BMP7','hESCs'] : datum.value"}}},"layer":[
{"mark":"bar","encoding":{"y":{"field":"value","type":"quantitative","scale":{"domain":[0,35],"nice":false},"axis":{"values":[5,15,25,35],"tickCount":10,"labelOverlap":false},"title":"Relative levels of mRNA"},"color":{"field":"group","type":"nominal","scale":{"domain":["hESCs","diff hESCs","BMP7 hESCs"],"range":["#6f8b30","#a2c64a","#cddfb0"]},"legend":null}}},
{"mark":{"type":"bar","fill":{"gradient":"linear","x1":0,"x2":1,"y1":0,"y2":0,"stops":[{"offset":0,"color":"rgba(0,0,0,0.18)"},{"offset":0.45,"color":"rgba(255,255,255,0.10)"},{"offset":1,"color":"rgba(0,0,0,0.10)"}]},"stroke":"rgba(0,0,0,0.2)","strokeWidth":0.6},"encoding":{"y":{"field":"value","type":"quantitative"}}},
{"mark":{"type":"rule","color":"#555"},"encoding":{"y":{"field":"value","type":"quantitative"},"y2":{"field":"hi"}}},
{"mark":{"type":"tick","color":"#555","size":5,"thickness":1},"encoding":{"y":{"field":"hi","type":"quantitative"}}},
{"mark":{"type":"text","baseline":"alphabetic","dy":0,"font":"Liberation Serif","fontSize":17,"fontWeight":"bold","color":"#222"},"encoding":{"y":{"field":"hi","type":"quantitative"},"text":{"field":"star"}}},
{"mark":{"type":"text","baseline":"alphabetic","dy":-18,"font":"Liberation Serif","fontSize":13,"color":"#222"},"encoding":{"y":{"field":"hi","type":"quantitative"},"text":{"field":"hash"}}}]}
     ]}
  ]}
]}
],
"config": {
  "view": {"stroke": null},
  "font": "Liberation Serif",
  "axis": {"labelFont": "Liberation Serif", "labelFontWeight": "bold", "labelFontSize": 10, "labelColor": "#222", "domainColor": "#999", "ticks": false, "grid": false, "titleFont": "Liberation Serif", "titleFontWeight": "bold", "titleFontSize": 10.5, "titleColor": "#222", "labelPadding": 3},
  "axisX": {"labelAngle": -45, "labelPadding": 4},
  "axisY": {"format": ".1f", "titlePadding": 4, "labelOverlap": false}
}
}
